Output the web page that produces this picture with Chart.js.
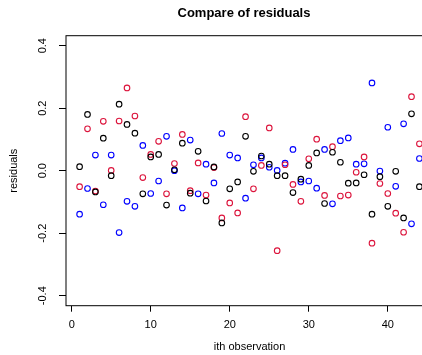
<!DOCTYPE html>
<html>
<head>
<meta charset="utf-8">
<script src="https://cdn.jsdelivr.net/npm/chart.js@4"></script>
<style>
html,body{margin:0;padding:0;overflow:hidden;background:#fff;}
canvas{display:block;}
</style>
</head>
<body>
<canvas id="c" width="440" height="355" style="width:440px;height:355px"></canvas>
<script>
const chartTitle = "Compare of residuals";
const xTitle = "ith observation";
const yTitle = "residuals";
const observations = [1,2,3,4,5,6,7,8,9,10,11,12,13,14,15,16,17,18,19,20,21,22,23,24,25,26,27,28,29,30,31,32,33,34,35,36,37,38,39,40,41,42,43,44];
const residBlack = [0.013,0.180,-0.068,0.104,-0.016,0.213,0.148,0.120,-0.074,0.044,0.052,-0.110,0.003,0.088,-0.072,0.062,-0.097,0.012,-0.167,-0.058,-0.036,0.110,-0.002,0.047,0.021,-0.016,-0.016,-0.070,-0.027,0.017,0.057,-0.105,0.059,0.027,-0.040,-0.039,-0.013,-0.139,-0.019,-0.114,-0.002,-0.151,0.182,-0.051];
const residRed = [-0.051,0.134,-0.065,0.158,0.001,0.159,0.265,0.175,-0.022,0.052,0.094,-0.074,0.023,0.116,-0.064,0.025,-0.078,0.010,-0.151,-0.103,-0.135,0.173,-0.058,0.017,0.137,-0.256,0.019,-0.044,-0.098,0.038,0.101,-0.079,0.077,-0.081,-0.078,-0.005,0.044,-0.232,-0.041,-0.073,-0.136,-0.197,0.237,0.086];
const residBlue = [-0.139,-0.057,0.050,-0.109,0.050,-0.198,-0.098,-0.114,0.081,-0.073,-0.033,0.110,0.000,-0.119,0.098,-0.074,0.021,-0.039,0.119,0.050,0.041,-0.088,0.019,0.041,0.011,0.001,0.024,0.068,-0.036,-0.033,-0.056,0.068,-0.106,0.096,0.105,0.021,0.022,0.281,-0.001,0.139,-0.050,0.150,-0.170,0.039];
const xTicks = [0,10,20,30,40];
const yTicks = [-0.4,-0.2,0.0,0.2,0.4];
const yTickLabels = ["-0.4","-0.2","0.0","0.2","0.4"];

const FONT = "'Liberation Sans', Arial, Helvetica, sans-serif";
Chart.defaults.font.family = FONT;
Chart.defaults.color = '#000';

function toPoints(vals){ return observations.map((x,i)=>({x:x,y:vals[i]})); }
function ds(label, vals, color){
  return {label, data: toPoints(vals), borderColor: color, backgroundColor: 'rgba(0,0,0,0)',
    pointStyle:'circle', pointRadius:2.8, pointBorderWidth:1.1, pointHoverRadius:2.8, showLine:false};
}

const decor = {
  id:'decor',
  afterDraw(chart){
    const ctx = chart.ctx, a = chart.chartArea, ys = chart.scales.y;
    ctx.save();
    ctx.strokeStyle = '#000'; ctx.lineWidth = 1;
    ctx.strokeRect(a.left, a.top, a.right - a.left, a.bottom - a.top);
    ctx.fillStyle = '#000';
    ctx.font = "11px " + FONT;
    ctx.textAlign = 'center'; ctx.textBaseline = 'middle';
    yTicks.forEach((v,i)=>{
      const py = ys.getPixelForValue(v);
      ctx.save(); ctx.translate(43, py); ctx.rotate(-Math.PI/2);
      ctx.fillText(yTickLabels[i], 0, 0); ctx.restore();
    });
    ctx.font = "bold 13px " + FONT;
    ctx.fillText(chartTitle, 244, 13);
    ctx.restore();
  }
};

new Chart(document.getElementById('c'), {
  type:'scatter',
  data:{ datasets:[ ds('black', residBlack, '#000000'), ds('red', residRed, '#DC143C'), ds('blue', residBlue, '#0000FF') ] },
  options:{
    responsive:false, animation:false, devicePixelRatio:1,
    events:[],
    layout:{ padding:{ top:35.7, right:7, left:0, bottom:0 } },
    plugins:{ legend:{display:false}, tooltip:{enabled:false}, title:{display:false} },
    scales:{
      x:{ type:'linear', min:-0.72, max:45.72,
        afterBuildTicks:(s)=>{ s.ticks = xTicks.map(v=>({value:v})); },
        afterFit:(s)=>{ s.height = 49.3; },
        grid:{ drawOnChartArea:false, drawTicks:true, tickLength:6, color:'#000', tickColor:'#000' },
        border:{ display:false },
        ticks:{ padding:7, font:{size:11}, color:'#000', maxRotation:0, autoSkip:false, callback:(v)=>String(v) },
        title:{ display:true, text:xTitle, font:{size:11}, color:'#000', padding:{top:0,bottom:1.6} }
      },
      y:{ type:'linear', min:-0.432, max:0.432,
        afterBuildTicks:(s)=>{ s.ticks = yTicks.map(v=>({value:v})); },
        afterFit:(s)=>{ s.width = 66; },
        grid:{ drawOnChartArea:false, drawTicks:true, tickLength:7, color:'#000', tickColor:'#000' },
        border:{ display:false },
        ticks:{ display:false },
        title:{ display:true, text:yTitle, font:{size:11}, color:'#000', padding:{top:7.6,bottom:0} }
      }
    }
  },
  plugins:[decor]
});
</script>
</body>
</html>
